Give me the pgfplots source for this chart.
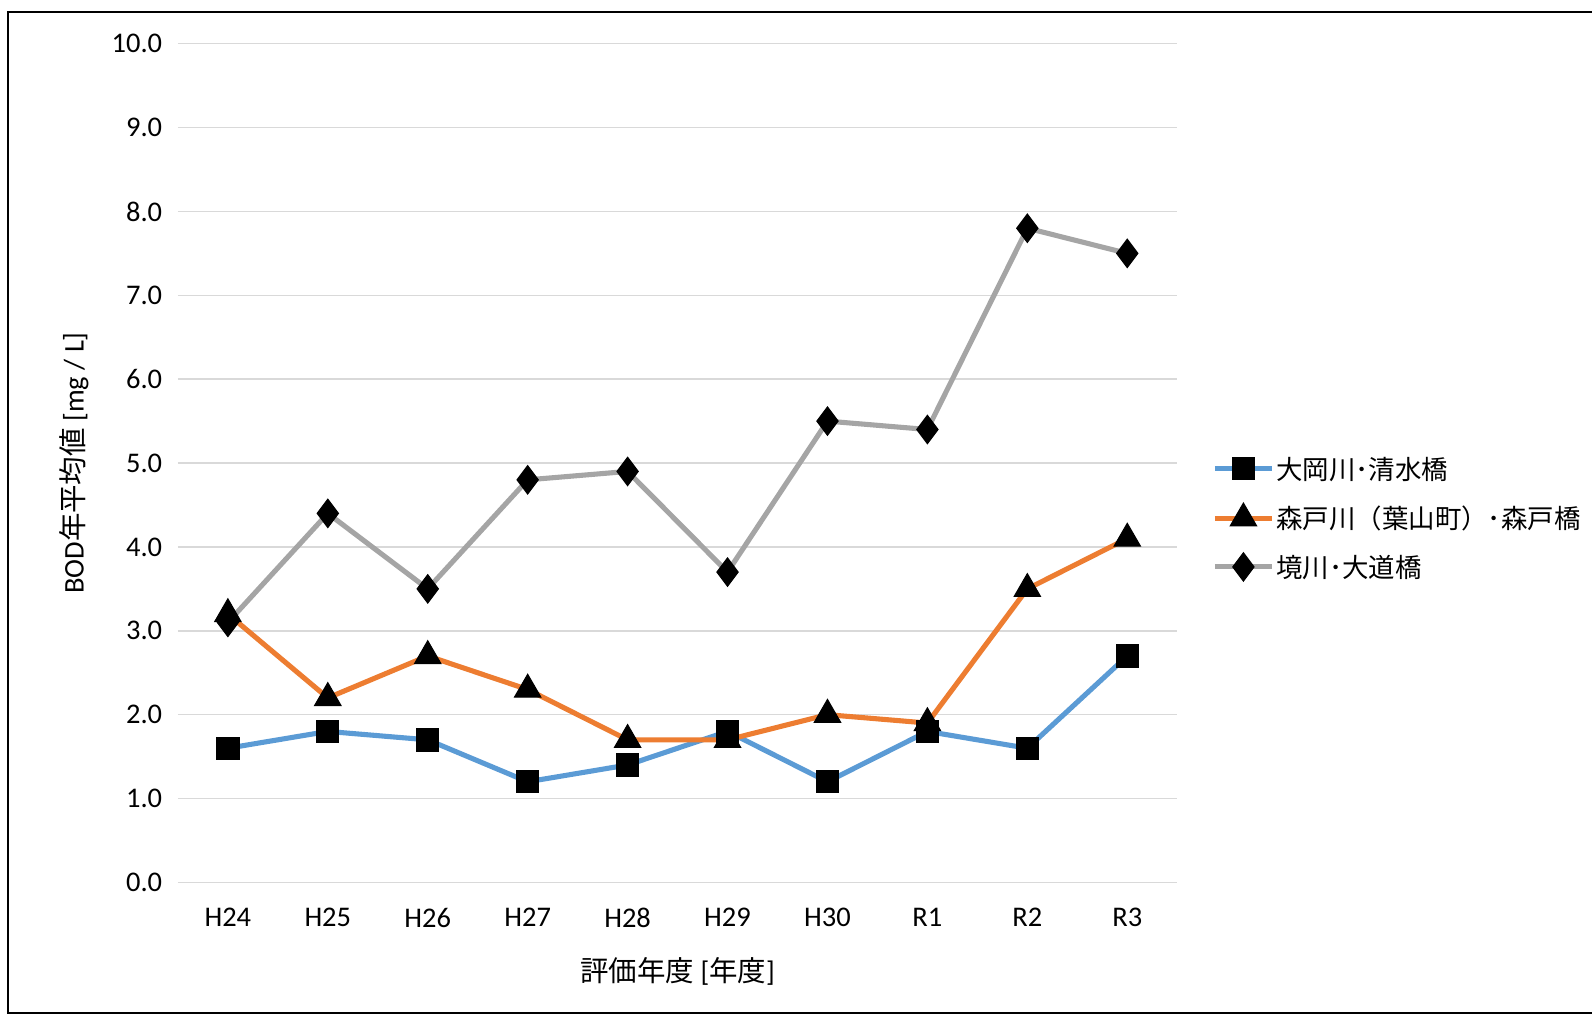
\documentclass[border=0pt]{standalone}
\usepackage{pgfplots}
\pgfplotsset{compat=1.18}
\usepackage{fontspec}
\setmainfont{Carlito}
\newfontfamily\cjk{Noto Sans CJK JP}
\definecolor{cb}{HTML}{5B9BD5}
\definecolor{co}{HTML}{ED7D31}
\definecolor{cg}{HTML}{A5A5A5}
\begin{document}
\begin{tikzpicture}[x=1pt,y=1pt]
\begin{axis}[at={(175pt,130pt)},anchor=south west,scale only axis,
 width=983pt,height=825pt,
 xmin=-0.5,xmax=9.5,ymin=0,ymax=10,
 xtick={0,...,9},xticklabels={H24,H25,H26,H27,H28,H29,H30,R1,R2,R3},
 ytick={0,1,...,10},
 yticklabel={\pgfmathprintnumber[fixed,fixed zerofill,precision=1]{\tick}},
 /pgf/number format/assume math mode=true,
 ymajorgrids,grid style={line width=1.5pt,color=gray!30},
 axis line style={draw=none},major tick length=0pt,
 tick label style={font=\fontsize{28}{30}\selectfont},
 xticklabel style={yshift=-22pt},yticklabel style={xshift=-12pt},
 xlabel={{\cjk 評価年度} [{\cjk 年度}]},ylabel={BOD{\cjk 年平均値} [mg / L]},
 label style={font=\fontsize{28}{32}\selectfont},
 xlabel style={yshift=-22pt},ylabel style={yshift=16pt},
 legend style={at={(1.035,0.51)},anchor=north west,draw=none,fill=none,
   font=\fontsize{26}{30}\selectfont\cjk,row sep=20pt,inner sep=0pt,
   legend cell align=left},
 legend image code/.code={\draw[#1] (0pt,0pt) -- (56pt,0pt); \path[#1,mark repeat=1] plot coordinates {(28pt,0pt)};},
 every axis plot/.append style={line width=5pt,mark options={solid,fill=black,draw=black,line width=1pt}},
 clip=false]
\addplot[cb,mark=square*,mark size=11pt] coordinates {(0,1.6)(1,1.8)(2,1.7)(3,1.2)(4,1.4)(5,1.8)(6,1.2)(7,1.8)(8,1.6)(9,2.7)};
\addlegendentry{大岡川･清水橋}
\addplot[co,mark=triangle*,mark size=15pt] coordinates {(0,3.2)(1,2.2)(2,2.7)(3,2.3)(4,1.7)(5,1.7)(6,2.0)(7,1.9)(8,3.5)(9,4.1)};
\addlegendentry{森戸川（葉山町）･森戸橋}
\addplot[cg,mark=diamond*,mark size=14pt] coordinates {(0,3.1)(1,4.4)(2,3.5)(3,4.8)(4,4.9)(5,3.7)(6,5.5)(7,5.4)(8,7.8)(9,7.5)};
\addlegendentry{境川･大道橋}
\end{axis}
\draw[line width=2.5pt] (8,1.5) rectangle (1589,986);
\pgfresetboundingbox
\useasboundingbox (0,0) rectangle (1566,998);
\end{tikzpicture}
\end{document}
